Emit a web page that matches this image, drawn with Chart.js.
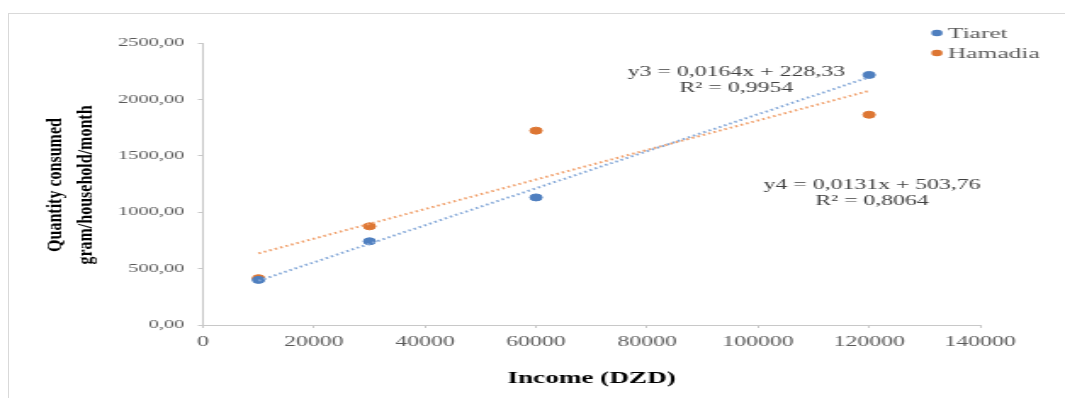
<!DOCTYPE html>
<html lang="en">
<head>
    <meta charset="UTF-8" />
    <title>Quantity consumed vs income</title>
    <script src="https://cdn.jsdelivr.net/npm/chart.js"></script>
    <style>
        html, body { margin: 0; padding: 0; background: #fff; overflow: hidden; }
        #frame { position: absolute; left: 8px; top: 13px; width: 1100px; height: 420px;
                 border-left: 1px solid #d9d9d9; border-top: 1px solid #d9d9d9; }
        /* the original picture is stretched sideways, so the chart is drawn narrow and scaled */
        #wrap { position: absolute; left: 0; top: 0; width: 627px; height: 398px;
                transform: scaleX(1.6986); transform-origin: 0 0; }
    </style>
</head>
<body>
    <div id="frame"></div>
    <div id="wrap"><canvas id="chart"></canvas></div>

    <script>
        const incomes = [10000, 30000, 60000, 120000];
        const tiaret = [400, 742, 1131, 2217];
        const hamadia = [415, 875, 1723, 1864];

        const seriesNames = ['Tiaret', 'Hamadia'];
        const seriesColors = ['#4f7fbf', '#dd7633'];
        const trendColors = ['#86a9d8', '#f0a06c'];
        const trendSlope = [0.0164, 0.0131];
        const trendIntercept = [228.33, 503.76];
        const equations = [['y3 = 0,0164x + 228,33', 'R² = 0,9954'], ['y4 = 0,0131x + 503,76', 'R² = 0,8064']];

        const yTitle = ['Quantity consumed', 'gram/household/month'];
        const xTitle = 'Income (DZD)';

        function points(ys) {
            return incomes.map((x, i) => ({ x: x, y: ys[i] }));
        }
        function trend(k) {
            const x0 = incomes[0], x1 = incomes[incomes.length - 1];
            return [
                { x: x0, y: trendSlope[k] * x0 + trendIntercept[k] },
                { x: x1, y: trendSlope[k] * x1 + trendIntercept[k] }
            ];
        }

        const serif = "'Liberation Serif', 'Times New Roman', serif";

        const extras = {
            id: 'extras',
            afterDraw(chart) {
                const ctx = chart.ctx;
                ctx.save();
                // y axis title, two rotated lines
                ctx.fillStyle = '#000';
                ctx.font = 'bold 16px ' + serif;
                ctx.textAlign = 'center';
                ctx.textBaseline = 'middle';
                [32.4, 51.2].forEach((cx, i) => {
                    ctx.save();
                    ctx.translate(cx, 185);
                    ctx.rotate(-Math.PI / 2);
                    ctx.scale(1, 0.78);
                    ctx.fillText(yTitle[i], 0, 0);
                    ctx.restore();
                });

                // legend
                ctx.font = '15px ' + serif;
                ctx.textAlign = 'left';
                seriesNames.forEach((name, i) => {
                    const y = 33 + i * 20;
                    ctx.fillStyle = seriesColors[i];
                    ctx.beginPath();
                    ctx.arc(551.6, y, 3.3, 0, Math.PI * 2);
                    ctx.fill();
                    ctx.fillStyle = '#595959';
                    ctx.fillText(name, 558, y + 1);
                });

                // trendline equations
                ctx.fillStyle = '#404040';
                ctx.font = '14px ' + serif;
                ctx.textAlign = 'center';
                const spots = [[433.5, 72], [513.4, 185]];
                equations.forEach((lines, k) => {
                    lines.forEach((t, j) => ctx.fillText(t, spots[k][0], spots[k][1] + j * 16));
                });
                ctx.restore();
            }
        };

        new Chart(document.getElementById('chart'), {
            type: 'scatter',
            data: {
                datasets: [
                    {
                        label: 'Tiaret trend', type: 'line', data: trend(0),
                        borderColor: trendColors[0], borderWidth: 2, borderDash: [1.5, 2],
                        pointRadius: 0, fill: false
                    },
                    {
                        label: 'Hamadia trend', type: 'line', data: trend(1),
                        borderColor: trendColors[1], borderWidth: 2, borderDash: [1.5, 2],
                        pointRadius: 0, fill: false
                    },
                    {
                        label: seriesNames[0], data: points(tiaret),
                        backgroundColor: seriesColors[0], borderColor: seriesColors[0],
                        pointRadius: 3.5
                    },
                    {
                        label: seriesNames[1], data: points(hamadia),
                        backgroundColor: seriesColors[1], borderColor: seriesColors[1],
                        pointRadius: 3.5
                    }
                ]
            },
            options: {
                responsive: true,
                maintainAspectRatio: false,
                animation: false,
                layout: { padding: { top: 43, right: 50, bottom: 0, left: 0 } },
                plugins: { legend: { display: false }, tooltip: { enabled: false } },
                scales: {
                    x: {
                        type: 'linear',
                        min: 0, max: 140000,
                        afterFit(s) { s.height = 73; },
                        border: { color: '#c8c8c8', width: 1 },
                        grid: { display: true, drawOnChartArea: false, tickLength: 3, color: '#c8c8c8' },
                        ticks: {
                            stepSize: 20000, padding: 6, color: '#595959',
                            font: { family: serif, size: 14 },
                            callback: v => String(v)
                        },
                        title: {
                            display: true, text: xTitle, color: '#000',
                            font: { family: serif, size: 16, weight: 'bold' },
                            padding: { top: 0, bottom: 10 }
                        }
                    },
                    y: {
                        min: 0, max: 2500,
                        afterFit(s) { s.width = 119.5; },
                        border: { color: '#c8c8c8', width: 1 },
                        grid: { display: true, drawOnChartArea: false, tickLength: 3, color: '#c8c8c8' },
                        ticks: {
                            stepSize: 500, padding: 8, color: '#595959',
                            font: { family: serif, size: 12 },
                            callback: v => v.toFixed(2).replace('.', ',')
                        }
                    }
                }
            },
            plugins: [extras]
        });
    </script>
</body>
</html>
